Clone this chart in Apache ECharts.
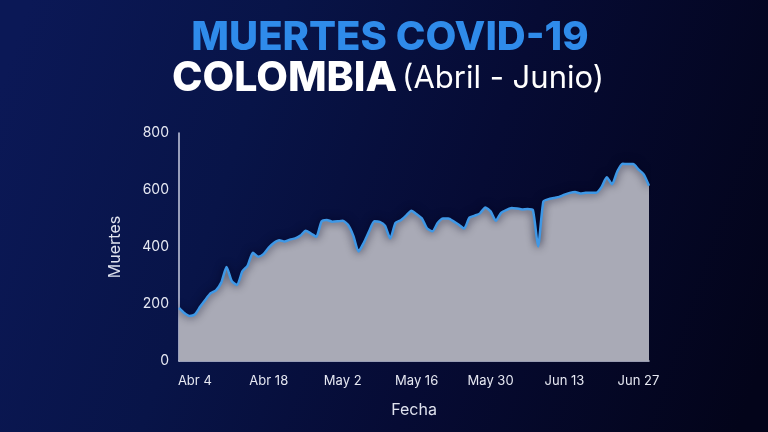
<!DOCTYPE html>
<html>
<head>
<meta charset="utf-8">
<script src="https://cdn.jsdelivr.net/npm/echarts@6/dist/echarts.min.js"></script>
<style>
html,body{margin:0;padding:0;width:768px;height:432px;overflow:hidden;background:#050a2e;}
#chart{width:768px;height:432px;}
</style>
</head>
<body>
<div id="chart"></div>
<script>
// Categories: daily dates, 1 Abr .. 29 Jun
const months = [['Abr', 30], ['May', 31], ['Jun', 29]];
const dates = [];
months.forEach(function (m) { for (let d = 1; d <= m[1]; d++) dates.push(m[0] + ' ' + d); });

// Tick labels shown on the x axis
const tickLabels = ['Abr 4', 'Abr 18', 'May 2', 'May 16', 'May 30', 'Jun 13', 'Jun 27'];

// Daily deaths
const deaths = [
  186, 168, 158, 163, 190, 215, 238, 248, 275, 330,
  280, 267, 315, 335, 380, 366, 375, 398, 415, 424,
  419, 426, 430, 440, 457, 447, 436, 490, 495, 489,
  490, 492, 478, 440, 384, 415, 455, 490, 488, 475,
  430, 485, 494, 510, 527, 515, 500, 465, 455, 485,
  500, 500, 490, 478, 465, 503, 510, 518, 539, 525,
  492, 520, 530, 537, 535, 532, 533, 530, 402, 560,
  568, 572, 576, 584, 590, 593, 588, 590, 590, 590,
  610, 645, 620, 665, 692, 691, 691, 672, 655, 615
];

const yTicks = { min: 0, max: 800, interval: 200 };

const chart = echarts.init(document.getElementById('chart'), null, { renderer: 'canvas' });
const font = 'Inter, "Open Sans", "DejaVu Sans", sans-serif';

chart.setOption({
  backgroundColor: {
    type: 'linear', x: 0, y: 0.2, x2: 1, y2: 0.8,
    colorStops: [
      { offset: 0, color: '#0b1856' },
      { offset: 0.3, color: '#081448' },
      { offset: 0.6, color: '#060b34' },
      { offset: 1, color: '#03041a' }
    ]
  },
  title: [
    {
      text: 'MUERTES COVID-19',
      left: 385, textAlign: 'center',
      top: 13,
      textStyle: { color: '#2f8bea', fontFamily: font, fontWeight: 800, fontSize: 40 }
    },
    {
      text: '{b|COLOMBIA} {r|(Abril - Junio)}',
      left: 383, textAlign: 'center',
      top: 53,
      textStyle: {
        rich: {
          b: { color: '#ffffff', fontFamily: font, fontWeight: 800, fontSize: 41 },
          r: { color: '#ffffff', fontFamily: font, fontWeight: 400, fontSize: 31 }
        }
      }
    }
  ],
  grid: { left: 179, right: 119, top: 133, bottom: 71 },
  xAxis: {
    type: 'category',
    data: dates,
    boundaryGap: false,
    name: 'Fecha',
    nameLocation: 'middle',
    nameGap: 41,
    nameTextStyle: { color: '#dfe2ee', fontFamily: font, fontSize: 16 },
    axisLine: { show: true, lineStyle: { color: '#c9cde0', width: 1.5 } },
    axisTick: { show: false },
    axisLabel: {
      color: '#e6e8f2', fontFamily: font, fontSize: 13, margin: 14,
      interval: function (i, v) { return tickLabels.indexOf(v) >= 0; }
    },
    splitLine: { show: false }
  },
  yAxis: {
    type: 'value',
    min: yTicks.min, max: yTicks.max, interval: yTicks.interval,
    name: 'Muertes',
    nameLocation: 'middle',
    nameGap: 56,
    nameTextStyle: { color: '#dfe2ee', fontFamily: font, fontSize: 16 },
    axisLine: { show: true, lineStyle: { color: '#c9cde0', width: 1.5 } },
    axisTick: { show: false },
    axisLabel: { color: '#e6e8f2', fontFamily: font, fontSize: 14, margin: 10 },
    splitLine: { show: false }
  },
  series: [{
    type: 'line',
    data: deaths,
    smooth: 0.2,
    symbol: 'none',
    lineStyle: { color: '#3f98e6', width: 2.5, shadowColor: 'rgba(2,4,30,0.9)', shadowBlur: 8 },
    areaStyle: { color: '#a9aab6', opacity: 1 },
    z: 2
  }],
  animation: false
});
</script>
</body>
</html>
